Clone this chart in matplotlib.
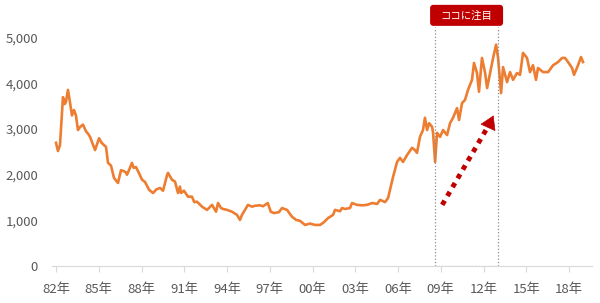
import matplotlib
matplotlib.use("Agg")
import matplotlib.pyplot as plt
from matplotlib.patches import FancyBboxPatch
from matplotlib.ticker import FuncFormatter

plt.rcParams["font.family"] = ["Noto Sans CJK JP", "DejaVu Sans"]

# 価格の推移（目視で読み取った値）
years = [
    1982.00, 1982.14, 1982.28, 1982.49, 1982.62, 1982.70, 1982.84, 1983.00, 1983.12, 1983.26,
    1983.40, 1983.54, 1983.70, 1983.89, 1984.11, 1984.25, 1984.39, 1984.55, 1984.74, 1985.02,
    1985.20, 1985.37, 1985.51, 1985.65, 1985.86, 1986.07, 1986.35, 1986.56, 1986.75, 1986.91,
    1986.98, 1987.15, 1987.33, 1987.45, 1987.61, 1987.80, 1988.04, 1988.25, 1988.53, 1988.81,
    1989.05, 1989.30, 1989.51, 1989.80, 1989.86, 1990.14, 1990.35, 1990.56, 1990.70, 1990.77,
    1990.98, 1991.26, 1991.54, 1991.70, 1991.89, 1992.25, 1992.60, 1992.95, 1993.23, 1993.37,
    1993.58, 1993.72, 1994.00, 1994.35, 1994.70, 1994.91, 1995.05, 1995.26, 1995.47, 1995.75,
    1995.96, 1996.30, 1996.53, 1996.86, 1997.07, 1997.30, 1997.64, 1997.86, 1998.21, 1998.56,
    1998.85, 1999.12, 1999.47, 1999.82, 2000.18, 2000.53, 2000.80, 2001.09, 2001.44, 2001.58,
    2001.93, 2002.07, 2002.28, 2002.63, 2002.77, 2003.12, 2003.50, 2003.82, 2004.20, 2004.53,
    2004.74, 2005.09, 2005.30, 2005.65, 2005.93, 2006.14, 2006.35, 2006.63, 2006.98, 2007.19,
    2007.33, 2007.54, 2007.75, 2007.89, 2008.04, 2008.18, 2008.39, 2008.46, 2008.60, 2008.74,
    2008.95, 2009.16, 2009.44, 2009.65, 2009.86, 2010.14, 2010.28, 2010.49, 2010.70, 2010.91,
    2011.19, 2011.33, 2011.54, 2011.68, 2011.89, 2012.11, 2012.25, 2012.46, 2012.67, 2012.88,
    2013.02, 2013.23, 2013.37, 2013.65, 2013.86, 2014.07, 2014.35, 2014.56, 2014.77, 2015.05,
    2015.26, 2015.47, 2015.68, 2015.82, 2016.18, 2016.53, 2016.88, 2017.23, 2017.51, 2017.72,
    2017.93, 2018.21, 2018.35, 2018.63, 2018.84, 2018.98,
]
values = [
    2700, 2520, 2650, 3700, 3550, 3600, 3860, 3550, 3300, 3420,
    3300, 2980, 3050, 3100, 2950, 2900, 2830, 2700, 2540, 2800,
    2700, 2650, 2610, 2260, 2200, 1930, 1820, 2100, 2080, 2050,
    2000, 2120, 2260, 2150, 2170, 2050, 1890, 1840, 1670, 1600,
    1680, 1710, 1650, 2000, 2040, 1890, 1850, 1600, 1740, 1600,
    1650, 1520, 1520, 1400, 1410, 1300, 1230, 1340, 1190, 1380,
    1270, 1250, 1230, 1190, 1120, 1010, 1120, 1230, 1340, 1300,
    1320, 1330, 1310, 1380, 1190, 1160, 1180, 1270, 1230, 1080,
    1010, 990, 900, 930, 900, 900, 960, 1050, 1120, 1230,
    1200, 1270, 1250, 1270, 1380, 1340, 1330, 1340, 1380, 1360,
    1450, 1400, 1490, 1950, 2280, 2370, 2280, 2430, 2590, 2540,
    2480, 2830, 2980, 3250, 2980, 3130, 3050, 2920, 2280, 2920,
    2830, 2980, 2870, 3130, 3250, 3460, 3200, 3570, 3640, 3860,
    4080, 4450, 4230, 3820, 4560, 4230, 3900, 4230, 4560, 4850,
    4560, 3790, 4360, 4030, 4250, 4080, 4230, 4190, 4670, 4560,
    4250, 4400, 4080, 4340, 4250, 4250, 4400, 4470, 4560, 4560,
    4470, 4340, 4190, 4400, 4580, 4470,
]

tick_years = [1982, 1985, 1988, 1991, 1994, 1997, 2000, 2003, 2006, 2009, 2012, 2015, 2018]
tick_labels = ["82年", "85年", "88年", "91年", "94年", "97年", "00年",
               "03年", "06年", "09年", "12年", "15年", "18年"]
y_ticks = [0, 1000, 2000, 3000, 4000, 5000]

focus_start, focus_end = 2008.6, 2013.0
focus_top = 5240
focus_label = "ココに注目"
arrow_from = (2009.1, 1340)
arrow_to = (2012.45, 3130)
arrow_tip = (2012.7, 3300)

fig = plt.figure(figsize=(6.0, 3.03), dpi=100)
ax = fig.add_axes([52 / 600, 37 / 303, 540 / 600, 266 / 303])

ax.plot(years, values, color="#ED7D31", linewidth=1.9, solid_joinstyle="round")

# 注目エリアの点線枠
box_color = "#8c8c8c"
ax.plot([focus_start, focus_start], [0, focus_top], color=box_color, lw=0.9, ls=":")
ax.plot([focus_end, focus_end], [0, focus_top], color=box_color, lw=0.9, ls=":")
ax.plot([focus_start, focus_end], [0, 0], color=box_color, lw=0.9, ls=":")

# ラベル（角丸の赤い箱）
lab_x0, lab_x1 = 2008.25, 2013.37
lab_y0, lab_y1 = 5263, 5724
ax.add_patch(FancyBboxPatch((lab_x0, lab_y0), lab_x1 - lab_x0, lab_y1 - lab_y0,
                            boxstyle="round,pad=0,rounding_size=0.22",
                            mutation_aspect=310, fc="#C00000", ec="none",
                            clip_on=False))
ax.text((lab_x0 + lab_x1) / 2, (lab_y0 + lab_y1) / 2, focus_label, color="white",
        fontsize=7.5, ha="center", va="center")

# 上昇の矢印
ax.plot([arrow_from[0], arrow_to[0]], [arrow_from[1], arrow_to[1]],
        color="#C00000", lw=3.5, linestyle=(0, (1, 1.1)), solid_capstyle="butt")
ax.annotate("", xy=arrow_tip, xytext=arrow_to,
            arrowprops=dict(arrowstyle="-|>,head_length=0.9,head_width=0.55",
                            color="#C00000", lw=0.5, shrinkA=0, shrinkB=0))

ax.set_xlim(1981.72, 2019.61)
ax.set_ylim(0, 5830)
ax.set_xticks(tick_years)
ax.set_xticklabels(tick_labels)
ax.set_yticks(y_ticks)
ax.yaxis.set_major_formatter(FuncFormatter(lambda v, p: f"{int(v):,}"))

for side in ["top", "right", "left"]:
    ax.spines[side].set_visible(False)
ax.spines["bottom"].set_color("#d9d9d9")
ax.tick_params(axis="x", colors="#d9d9d9", length=4, labelcolor="#595959", labelsize=9.5, pad=8)
ax.tick_params(axis="y", length=0, labelcolor="#595959", labelsize=9.5, pad=10)

fig.savefig("out.png", dpi=100)
